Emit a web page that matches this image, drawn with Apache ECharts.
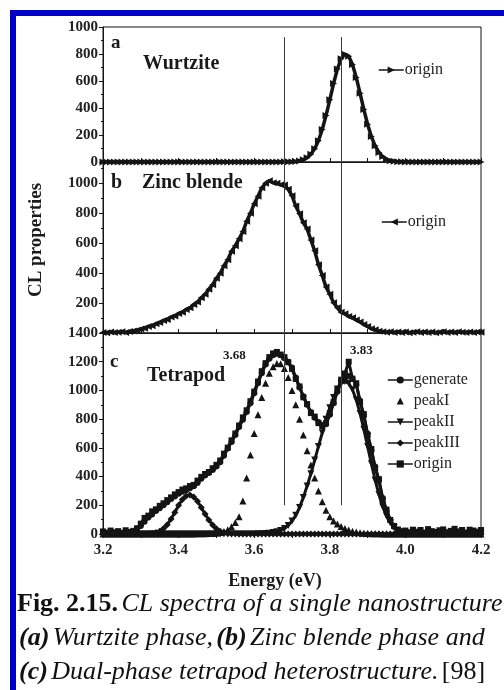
<!DOCTYPE html>
<html>
<head>
<meta charset="utf-8">
<script src="https://cdn.jsdelivr.net/npm/echarts@6/dist/echarts.min.js"></script>
<style>
html, body { margin: 0; padding: 0; background: #fff; width: 504px; height: 690px; overflow: hidden; }
#frame { position: absolute; left: 10px; top: 10px; width: 700px; height: 900px;
         border-left: 6px solid #0000c8; border-top: 6px solid #0000c8; }
#chart { position: absolute; left: 0; top: 0; width: 504px; height: 690px; }
</style>
</head>
<body>
<div id="frame"></div>
<div id="chart"></div>
<script>
// Photon energy grid (eV), shared by every spectrum
const energy = [
  3.20,3.21,3.22,3.23,3.24,3.25,3.26,3.27,3.28,3.29,
  3.30,3.31,3.32,3.33,3.34,3.35,3.36,3.37,3.38,3.39,
  3.40,3.41,3.42,3.43,3.44,3.45,3.46,3.47,3.48,3.49,
  3.50,3.51,3.52,3.53,3.54,3.55,3.56,3.57,3.58,3.59,
  3.60,3.61,3.62,3.63,3.64,3.65,3.66,3.67,3.68,3.69,
  3.70,3.71,3.72,3.73,3.74,3.75,3.76,3.77,3.78,3.79,
  3.80,3.81,3.82,3.83,3.84,3.85,3.86,3.87,3.88,3.89,
  3.90,3.91,3.92,3.93,3.94,3.95,3.96,3.97,3.98,3.99,
  4.00,4.01,4.02,4.03,4.04,4.05,4.06,4.07,4.08,4.09,
  4.10,4.11,4.12,4.13,4.14,4.15,4.16,4.17,4.18,4.19,
  4.20
];

// (a) Wurtzite spectrum
const wurtzite = [
  0,0,0,0,0,0,0,0,0,0,
  0,0,0,0,0,0,0,0,0,0,
  0,0,0,0,0,0,0,0,0,0,
  0,0,0,0,0,0,0,0,0,0,
  0,0,0,0,0,0,0,0,1,1,
  2,4,8,16,31,57,98,158,241,344,
  461,581,688,765,799,784,723,626,510,389,
  280,188,120,71,40,21,10,5,2,1,
  0,0,0,0,0,0,0,0,0,0,
  0,0,0,0,0,0,0,0,0,0,
  0
];

// (b) Zinc blende spectrum
const zincBlende = [
  4,2,6,3,5,8,4,10,13,18,
  26,32,44,49,62,70,84,90,106,114,
  130,138,157,168,190,206,235,258,292,322,
  365,398,448,488,545,582,628,676,745,798,
  862,912,968,998,1015,1002,998,988,986,958,
  915,846,795,735,694,620,548,455,384,306,
  258,202,168,138,128,110,102,86,74,56,
  44,28,22,11,9,5,8,4,7,3,
  6,2,5,8,3,6,4,7,2,5,
  8,3,6,4,9,5,3,7,4,6,
  5
];

// (c) Tetrapod: fitted envelope, three fitted peaks and the measured spectrum
const generate = [
  5,5,6,5,6,7,7,8,10,25,
  55,85,115,135,160,180,200,222,243,262,
  280,295,305,318,332,355,385,408,425,445,
  470,500,545,595,640,690,745,795,850,910,
  980,1050,1120,1180,1220,1245,1255,1245,1225,1200,
  1160,1090,1020,960,900,850,810,780,760,765,
  830,910,990,1060,1090,1100,1080,1040,930,820,
  700,580,470,370,250,160,95,50,25,12,
  6,4,3,3,3,3,3,3,3,3,
  3,3,3,3,3,3,3,3,3,3,
  3
];
const peakI = [
  0,0,0,0,0,0,0,0,0,0,
  0,0,0,0,0,0,0,0,0,0,
  0,0,0,0,0,1,1,2,3,4,
  5,10,18,30,50,80,120,230,390,550,
  700,830,950,1050,1120,1165,1188,1185,1152,1090,
  1000,900,800,690,580,480,390,300,225,165,
  120,90,70,52,38,28,20,14,9,6,
  4,2,1,1,0,0,0,0,0,0,
  0,0,0,0,0,0,0,0,0,0,
  0,0,0,0,0,0,0,0,0,0,
  0
];
const peakII = [
  0,0,0,0,0,0,0,0,0,0,
  0,0,0,0,0,0,0,0,0,0,
  0,0,0,0,0,0,0,0,0,0,
  0,0,0,0,0,0,0,0,0,0,
  0,1,2,4,6,10,15,24,38,60,
  90,130,185,255,335,420,515,610,705,800,
  880,950,1010,1050,1062,1050,1005,935,840,730,
  610,490,375,275,190,125,78,46,26,14,
  7,3,1,0,0,0,0,0,0,0,
  0,0,0,0,0,0,0,0,0,0,
  0
];
const peakIII = [
  0,0,0,0,0,0,0,0,0,0,
  0,0,2,5,10,20,38,65,105,150,
  200,240,265,272,258,228,185,140,98,62,
  36,19,9,4,2,1,0,0,0,0,
  0,0,0,0,0,0,0,0,0,0,
  0,0,0,0,0,0,0,0,0,0,
  0,0,0,0,0,0,0,0,0,0,
  0,0,0,0,0,0,0,0,0,0,
  0,0,0,0,0,0,0,0,0,0,
  0,0,0,0,0,0,0,0,0,0,
  0
];
const tetrapod = [
  18,9,24,12,20,8,26,14,22,40,
  72,112,128,158,172,196,214,236,255,276,
  292,310,318,334,342,372,398,418,432,458,
  482,512,560,602,652,700,756,812,862,925,
  992,1062,1134,1190,1232,1258,1268,1250,1232,1196,
  1150,1080,1028,952,905,842,818,772,752,772,
  842,918,1002,1075,1118,1200,1082,1050,918,835,
  688,592,458,382,238,170,98,56,30,18,
  24,12,30,16,28,10,34,20,14,26,
  32,12,22,36,18,28,10,30,24,16,
  28
];

// Peak positions marked by the vertical guide lines
const peakEnergies = [3.68, 3.83];
const peakLabels = ['3.68', '3.83'];

const SERIF = '"Liberation Serif", "Times New Roman", serif';
const INK = '#141414';

const pair = ys => energy.map((x, i) => [x, ys[i]]);

function xAx(gi, extra) {
  return Object.assign({
    type: 'value', gridIndex: gi, min: 3.2, max: 4.2, interval: 0.1,
    axisLine: { onZero: false, lineStyle: { color: INK, width: 1 } },
    axisTick: { inside: true, length: 4, lineStyle: { color: INK } },
    axisLabel: { show: false },
    splitLine: { show: false }
  }, extra || {});
}
const yLabel = {
  fontFamily: SERIF, fontWeight: 'bold', fontSize: 15, color: '#222', margin: 5,
  formatter: v => String(v)
};
function yAx(gi, max, extra) {
  return Object.assign({
    type: 'value', gridIndex: gi, min: 0, max: max, interval: 200,
    axisLine: { show: true, lineStyle: { color: INK, width: 1 } },
    axisTick: { show: true, length: 4, lineStyle: { color: INK } },
    minorTick: { show: true, splitNumber: 2, length: 2, lineStyle: { color: INK } },
    axisLabel: yLabel,
    splitLine: { show: false }
  }, extra || {});
}
function guides(lo, hi) {
  return {
    silent: true, symbol: 'none', animation: false,
    label: { show: false },
    lineStyle: { color: '#3a3a3a', width: 1, type: 'solid' },
    data: peakEnergies.map(e => [{ coord: [e, lo] }, { coord: [e, hi] }])
  };
}
function curve(name, gi, ys, symbol, extra) {
  return Object.assign({
    name: name, type: 'line', xAxisIndex: gi, yAxisIndex: gi,
    data: pair(ys), symbol: symbol, symbolSize: 7, showAllSymbol: true,
    lineStyle: { color: INK, width: 3.5 }, itemStyle: { color: INK },
    animation: false, z: 3
  }, extra || {});
}
function txt(x, y, text, font, align) {
  const a = align || 'left';
  return {
    type: 'text', x: x, y: y, silent: true,
    style: { text: text, font: font, fill: '#1a1a1a',
             textAlign: a, textVerticalAlign: 'middle', align: a, verticalAlign: 'middle' }
  };
}

const chart = echarts.init(document.getElementById('chart'), null, { renderer: 'canvas' });

const legendBase = {
  orient: 'vertical', itemWidth: 25, itemHeight: 9, itemGap: 5,
  lineStyle: { width: 1.5 },
  textStyle: { fontFamily: SERIF, fontSize: 16, color: '#222', padding: [0, 0, 0, -4] },
  formatter: n => n.split('-')[0],
  selectedMode: false
};

const rotatedTitle = txt(36, 240, 'CL properties', 'bold 19px ' + SERIF, 'center');
rotatedTitle.rotation = Math.PI / 2;

const CAP = 26;

chart.setOption({
  backgroundColor: 'transparent',
  animation: false,
  grid: [
    { left: 103, top: 27, width: 378, height: 135, show: true, borderColor: INK, borderWidth: 1 },
    { left: 103, top: 162, width: 378, height: 171, show: true, borderColor: INK, borderWidth: 1 },
    { left: 103, top: 333, width: 378, height: 201, show: true, borderColor: INK, borderWidth: 1 }
  ],
  xAxis: [
    xAx(0),
    xAx(1),
    xAx(2, {
      axisTick: { inside: false, length: 3, lineStyle: { color: INK } },
      axisLabel: {
        show: true, margin: 9, fontFamily: SERIF, fontWeight: 'bold', fontSize: 15, color: '#222',
        formatter: v => (Math.round(v * 10) % 2 === 0 ? v.toFixed(1) : '')
      }
    }),
    xAx(2, { position: 'top', axisLine: { show: false } })
  ],
  yAxis: [
    yAx(0, 1000),
    yAx(1, 1140, { axisLabel: Object.assign({}, yLabel, { showMinLabel: false, showMaxLabel: false }) }),
    yAx(2, 1400)
  ],
  legend: [
    Object.assign({}, legendBase, { left: 373, top: 57, data: ['origin-a'] }),
    Object.assign({}, legendBase, { left: 376, top: 209, data: ['origin-b'] }),
    Object.assign({}, legendBase, { left: 382, top: 367, data: ['generate', 'peakI', 'peakII', 'peakIII', 'origin-c'] })
  ],
  series: [
    curve('origin-a', 0, wurtzite, 'triangle', { symbolRotate: -90, markLine: guides(0, 925) }),
    curve('origin-b', 1, zincBlende, 'triangle', { symbolRotate: 90, markLine: guides(0, 1140) }),
    curve('peakIII', 2, peakIII, 'diamond', { lineStyle: { color: INK, width: 3 } }),
    curve('peakII', 2, peakII, 'triangle', { symbolRotate: 180, lineStyle: { color: INK, width: 3 } }),
    curve('peakI', 2, peakI, 'triangle', { symbolSize: 7, lineStyle: { color: INK, width: 0, opacity: 0 } }),
    curve('origin-c', 2, tetrapod, 'rect', { symbolSize: 6, lineStyle: { color: INK, width: 3 } }),
    curve('generate', 2, generate, 'circle', { symbolSize: 6, lineStyle: { color: INK, width: 3 },
                                               markLine: guides(200, 1400) })
  ],
  graphic: [
    txt(111, 43, 'a', 'bold 19px ' + SERIF),
    txt(143, 64, 'Wurtzite', 'bold 20px ' + SERIF),
    txt(111, 183, 'b', 'bold 20px ' + SERIF),
    txt(142, 183, 'Zinc blende', 'bold 20px ' + SERIF),
    txt(110, 362, 'c', 'bold 19px ' + SERIF),
    txt(147, 376, 'Tetrapod', 'bold 20px ' + SERIF),
    txt(223, 356, peakLabels[0], 'bold 13px ' + SERIF),
    txt(350, 351, peakLabels[1], 'bold 13px ' + SERIF),
    rotatedTitle,
    txt(275, 581, 'Energy (eV)', 'bold 18px ' + SERIF, 'center'),
    {
      type: 'text', x: 17, y: 604, silent: true,
      style: {
        text: '{b|Fig. 2.15.} {i|CL spectra of a single nanostructure}',
        verticalAlign: 'middle', textVerticalAlign: 'middle',
        rich: {
          b: { font: 'bold ' + CAP + 'px ' + SERIF, fill: '#111' },
          i: { font: 'italic ' + CAP + 'px ' + SERIF, fill: '#111' }
        }
      }
    },
    {
      type: 'text', x: 19, y: 638, silent: true,
      style: {
        text: '{bi|(a)} {i|Wurtzite phase,} {bi|(b)} {i|Zinc blende phase and}',
        verticalAlign: 'middle', textVerticalAlign: 'middle',
        rich: {
          bi: { font: 'italic bold ' + CAP + 'px ' + SERIF, fill: '#111' },
          i: { font: 'italic ' + CAP + 'px ' + SERIF, fill: '#111' }
        }
      }
    },
    {
      type: 'text', x: 19, y: 672, silent: true,
      style: {
        text: '{bi|(c)} {i|Dual-phase tetrapod heterostructure.} {r|[98]}',
        verticalAlign: 'middle', textVerticalAlign: 'middle',
        rich: {
          bi: { font: 'italic bold ' + CAP + 'px ' + SERIF, fill: '#111' },
          i: { font: 'italic ' + CAP + 'px ' + SERIF, fill: '#111' },
          r: { font: CAP + 'px ' + SERIF, fill: '#111' }
        }
      }
    }
  ]
});
</script>
</body>
</html>
